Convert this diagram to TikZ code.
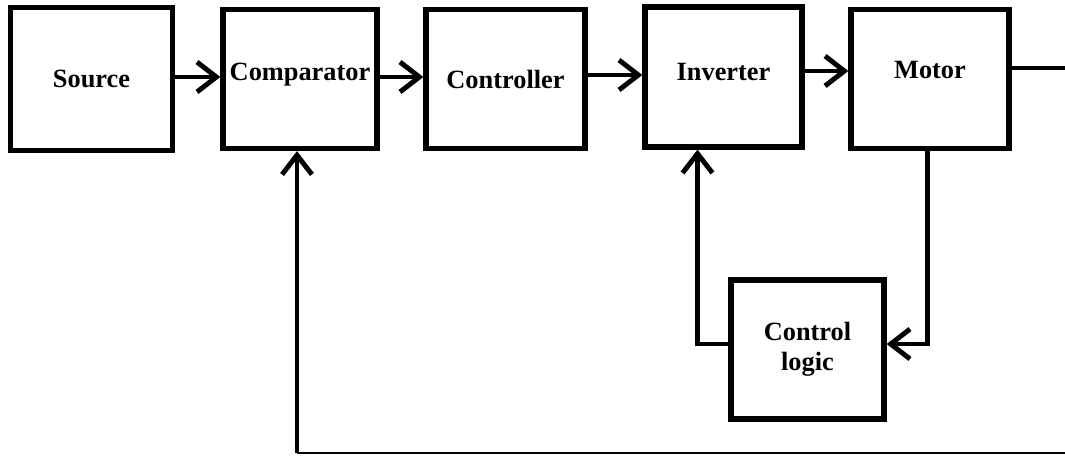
\documentclass[tikz,border=0pt]{standalone}
\usepackage{fontspec}
\setmainfont{Liberation Serif}
\usetikzlibrary{arrows.meta}

% raise a label without changing the box it sits in
\newcommand{\liftby}[2]{\raisebox{#1}[\height][\depth]{#2}}

\begin{document}
\begin{tikzpicture}[
                x=0.02cm, y=-0.02cm,
                every node/.style={font=\bfseries\fontsize{15}{17}\selectfont},
                blk/.style={draw, line width=3pt, inner sep=0pt, align=center,
                    minimum width=3.14cm, minimum height=2.78cm},
                flow/.style={line width=2.8pt, -{Straight Barb[length=11pt,width=17pt]}},
                wire/.style={line width=2.2pt}
            ]

                \useasboundingbox (0,0) rectangle (1065,456);

                % forward path
                \node[blk, minimum width=3.24cm, minimum height=2.86cm] (src) at (91.5,79) {Source};
                \node[blk, minimum width=3.08cm] (cmp) at (300,79) {\liftby{2.5pt}{Comparator}};
                \node[blk, minimum width=3.18cm] (ctl) at (505.5,79) {Controller};
                \node[blk, minimum height=2.8cm] (inv) at (723.5,77) {\liftby{2.8pt}{Inverter}};
                \node[blk, minimum width=3.16cm] (mot) at (930,79) {\liftby{5.2pt}{Motor}};
                \node[blk, minimum width=3.06cm] (logic) at (807.5,349.5) {Control\\logic};

                \draw[flow] ([yshift=0.04cm]src.east) -- ([yshift=0.04cm]src.east -| cmp.west);
                \draw[flow] ([yshift=0.04cm]cmp.east) -- ([yshift=0.04cm]cmp.east -| ctl.west);
                \draw[flow] ([yshift=0.08cm]ctl.east) -- ([yshift=0.08cm]ctl.east -| inv.west);
                \draw[flow] ([yshift=0.12cm]inv.east) -- ([yshift=0.12cm]inv.east -| mot.west);

                % output and feedback loops
                \coordinate (out) at (1065,68);
                \coordinate (fbR) at (1065,453);
                \coordinate (fbL) at (297,453);

                \draw[wire] (mot.east |- out) -- (out);
                \draw[flow] ([xshift=-0.05cm]mot.south) |- ([yshift=0.11cm]logic.east);
                \draw[flow] ([yshift=0.11cm]logic.west) -| ([xshift=-0.52cm]inv.south);
                \draw[line width=1.1pt] (fbR) -- (fbL);
                \draw[flow] (fbL) -- (fbL |- cmp.south);

            \end{tikzpicture}
\end{document}
